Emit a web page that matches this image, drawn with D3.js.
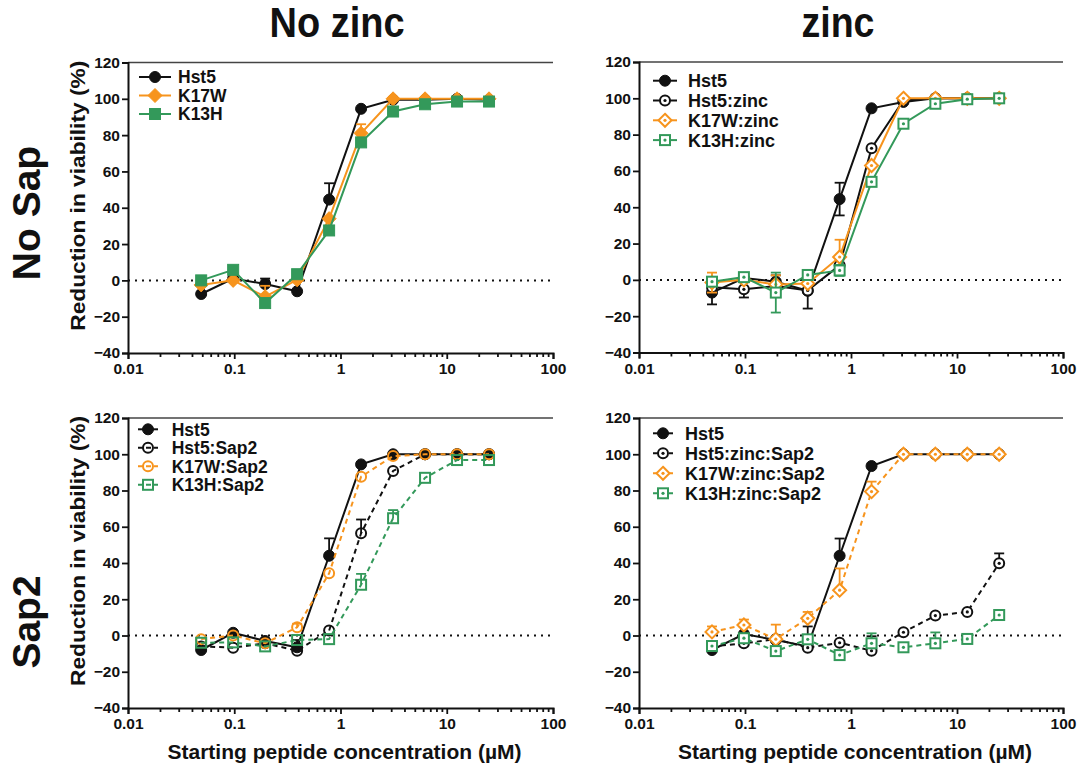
<!DOCTYPE html>
<html><head><meta charset="utf-8">
<script src="https://cdn.jsdelivr.net/npm/d3@7"></script>
<style>
body{margin:0;background:#fff;}
text{font-family:"Liberation Sans",Arial,sans-serif;font-weight:bold;fill:#111;}
</style>
</head><body><svg id="c" width="1079" height="767"></svg>
<script>
// ---------------- data ----------------
const concentrations = [0.048828125, 0.09765625, 0.1953125, 0.390625, 0.78125, 1.5625, 3.125, 6.25, 12.5, 25];
const xTickValues = [0.01, 0.1, 1, 10, 100];
const yTickValues = [-40, -20, 0, 20, 40, 60, 80, 100, 120];
const colTitles = ["No zinc", "zinc"];
const rowTitles = ["No Sap", "Sap2"];
const yTitle = "Reduction in viability (%)";
const xTitle = "Starting peptide concentration (µM)";

// Panel: No Sap / No zinc
const hst5_A      = [-7.5, 1, -2, -6, 44.5, 94.5, 99.5, 99.5, 100, 99.5];
const hst5_A_err  = [0, 0, 3, 0, 9, 0, 0, 0, 0, 0];
const k17w_A      = [-2.5, 0, -9, 0.3, 34, 81, 100, 100, 100, 100];
const k17w_A_err  = [0, 0, 6, 0, 0, 5, 0, 0, 0, 0];
const k13h_A      = [0, 5.8, -12.5, 3.4, 27.5, 76, 93, 97, 98.5, 98.5];
const k13h_A_err  = [0, 0, 0, 0, 0, 0, 0, 0, 0, 0];

// Panel: No Sap / zinc
const hst5_B        = [-7, 1, -1, -6, 44.5, 94.5, 98, 100, 100, 100];
const hst5_B_err    = [6.5, 0, 3.5, 0, 9, 0, 0, 0, 0, 0];
const hst5zn_B      = [-4, -5.2, -3.4, -5.8, 8, 72.5, 99, 100, 100, 100];
const hst5zn_B_err  = [0, 4.5, 0, 10, 0, 0, 0, 0, 0, 0];
const k17wzn_B      = [-1.5, 0, -2.5, -2, 12.6, 63, 100, 100, 100, 100];
const k17wzn_B_err  = [5.5, 0, 5, 0, 9.5, 0, 0, 0, 0, 0];
const k13hzn_B      = [-1, 1.5, -7, 2.7, 5.2, 54, 86, 97, 99.5, 100];
const k13hzn_B_err  = [0, 0, 11, 0, 3, 0, 0, 0, 0, 0];

// Panel: Sap2 / No zinc
const hst5_C        = [-8, 1.5, -3, -6.5, 44, 94.4, 100, 100, 100, 100];
const hst5_C_err    = [0, 0, 0, 4, 9.6, 0, 0, 0, 0, 0];
const hst5sap_C     = [-6, -6.7, -4.3, -8.4, 2.7, 56.4, 90.8, 100, 100, 100];
const hst5sap_C_err = [0, 0, 0, 0, 0, 7.6, 0, 0, 0, 0];
const k17wsap_C     = [-2, 0, -4.3, 4.5, 34.3, 87.6, 99, 100, 100, 100];
const k17wsap_C_err = [0, 0, 0, 2, 0, 0, 0, 0, 0, 0];
const k13hsap_C     = [-4, -3.8, -6, -2.5, -2, 28, 64.7, 87, 96.8, 96.8];
const k13hsap_C_err = [0, 0, 0, 0, 0, 6, 4.5, 0, 0, 0];

// Panel: Sap2 / zinc
const hst5_D          = [-8, 0.8, -2.5, -6, 44, 93.5, 100, 100, 100, 100];
const hst5_D_err      = [0, 0, 0, 11, 9.5, 0, 0, 0, 0, 0];
const hst5znsap_D     = [-6, -4.3, -2, -6.7, -4, -8.4, 1.8, 11, 13, 39.8];
const hst5znsap_D_err = [0, 0, 0, 0, 0, 8, 0, 0, 0, 5.5];
const k17wznsap_D     = [2, 5.8, -2, 9.5, 25, 79.4, 100, 100, 100, 100];
const k17wznsap_D_err = [3, 3, 8, 3.5, 12, 5.5, 0, 0, 0, 0];
const k13hznsap_D     = [-5.8, -1.5, -8.6, -2.1, -10.8, -4.3, -6.5, -4.3, -1.9, 11.3];
const k13hznsap_D_err = [0, 0, 0, 0, 0, 5.5, 0, 6, 0, 0];

// ---------------- styles ----------------
const BLACK = "#111111", ORANGE = "#f7941d", GREEN = "#33995a";

const panels = [
  { x0: 128, x1: 553, yT: 62.5, yB: 353, errBoth: false,
    legend: { mx: 155, y0: 77, dy: 18.5, tx: 178, half: 16, fs: 17.5 },
    series: [
      { name: "Hst5", v: hst5_A, e: hst5_A_err, color: BLACK, shape: "circle", fill: "filled", dash: false },
      { name: "K17W", v: k17w_A, e: k17w_A_err, color: ORANGE, shape: "diamond", fill: "filled", dash: false },
      { name: "K13H", v: k13h_A, e: k13h_A_err, color: GREEN, shape: "square", fill: "filled", dash: false }
    ]},
  { x0: 639, x1: 1063, yT: 62, yB: 352.5, errBoth: true,
    legend: { mx: 665, y0: 80.7, dy: 19.8, tx: 688, half: 12, fs: 18 },
    series: [
      { name: "Hst5", v: hst5_B, e: hst5_B_err, color: BLACK, shape: "circle", fill: "filled", dash: false },
      { name: "Hst5:zinc", v: hst5zn_B, e: hst5zn_B_err, color: BLACK, shape: "circle", fill: "dot", dash: false },
      { name: "K17W:zinc", v: k17wzn_B, e: k17wzn_B_err, color: ORANGE, shape: "diamond", fill: "dot", dash: false },
      { name: "K13H:zinc", v: k13hzn_B, e: k13hzn_B_err, color: GREEN, shape: "square", fill: "dot", dash: false }
    ]},
  { x0: 128, x1: 553, yT: 418, yB: 708, errBoth: false,
    legend: { mx: 148, y0: 429.3, dy: 18.5, tx: 171.7, half: 10, fs: 17.5 },
    series: [
      { name: "Hst5", v: hst5_C, e: hst5_C_err, color: BLACK, shape: "circle", fill: "filled", dash: false },
      { name: "Hst5:Sap2", v: hst5sap_C, e: hst5sap_C_err, color: BLACK, shape: "circle", fill: "open", dash: true },
      { name: "K17W:Sap2", v: k17wsap_C, e: k17wsap_C_err, color: ORANGE, shape: "circle", fill: "open", dash: true },
      { name: "K13H:Sap2", v: k13hsap_C, e: k13hsap_C_err, color: GREEN, shape: "square", fill: "open", dash: true }
    ]},
  { x0: 639, x1: 1063, yT: 418, yB: 708, errBoth: false,
    legend: { mx: 663, y0: 433.3, dy: 20, tx: 685, half: 10, fs: 18 },
    series: [
      { name: "Hst5", v: hst5_D, e: hst5_D_err, color: BLACK, shape: "circle", fill: "filled", dash: false },
      { name: "Hst5:zinc:Sap2", v: hst5znsap_D, e: hst5znsap_D_err, color: BLACK, shape: "circle", fill: "dot", dash: true },
      { name: "K17W:zinc:Sap2", v: k17wznsap_D, e: k17wznsap_D_err, color: ORANGE, shape: "diamond", fill: "dot", dash: true },
      { name: "K13H:zinc:Sap2", v: k13hznsap_D, e: k13hznsap_D_err, color: GREEN, shape: "square", fill: "dot", dash: true }
    ]}
];

const svg = d3.select("#c");

function drawMarker(g, cx, cy, s) {
  const filled = s.fill === "filled";
  const fillCol = filled ? s.color : (s.fill === "dot" ? "#fff" : "none");
  let m;
  if (s.shape === "circle") {
    m = g.append("circle").attr("cx", cx).attr("cy", cy).attr("r", filled ? 5.5 : 5);
  } else if (s.shape === "square") {
    const h = filled ? 5.5 : 5;
    m = g.append("rect").attr("x", cx - h).attr("y", cy - h).attr("width", 2 * h).attr("height", 2 * h);
  } else {
    const h = filled ? 7 : 6.5;
    m = g.append("path").attr("d", `M${cx},${cy - h}L${cx + h},${cy}L${cx},${cy + h}L${cx - h},${cy}Z`);
  }
  m.attr("fill", fillCol).attr("stroke", s.color).attr("stroke-width", filled ? 1 : 2);
  if (s.fill === "dot") {
    g.append("circle").attr("cx", cx).attr("cy", cy).attr("r", 1.6).attr("fill", s.color);
  }
}

const minorTicks = [];
for (let d = 0.01; d < 100; d *= 10) for (let k = 2; k <= 9; k++) minorTicks.push(+(d * k).toPrecision(3));

panels.forEach((p, pi) => {
  const x = d3.scaleLog().domain([0.01, 100]).range([p.x0, p.x1]);
  const y = d3.scaleLinear().domain([-40, 120]).range([p.yB, p.yT]);
  const g = svg.append("g");

  // top frame line
  g.append("line").attr("x1", p.x0).attr("x2", p.x1).attr("y1", y(120)).attr("y2", y(120))
    .attr("stroke", "#444").attr("stroke-width", 1.5);

  // zero reference
  g.append("line").attr("x1", p.x0).attr("x2", p.x1).attr("y1", y(0)).attr("y2", y(0))
    .attr("stroke", BLACK).attr("stroke-width", 2).attr("stroke-dasharray", "2,5");

  // axes
  const ay = g.append("g").attr("transform", `translate(${p.x0},0)`)
    .call(d3.axisLeft(y).tickValues(yTickValues).tickSize(6).tickPadding(2).tickFormat(d3.format("d")));
  const ax = g.append("g").attr("transform", `translate(0,${p.yB})`)
    .call(d3.axisBottom(x).tickValues(xTickValues).tickSize(6).tickPadding(4).tickFormat(d => String(d)));
  const axm = g.append("g").attr("transform", `translate(0,${p.yB})`)
    .call(d3.axisBottom(x).tickValues(minorTicks).tickSize(4).tickFormat(""));
  axm.select(".domain").remove();
  [ay, ax, axm].forEach(a => {
    a.selectAll(".domain").attr("stroke", BLACK).attr("stroke-width", 2);
    a.selectAll(".tick line").attr("stroke", BLACK).attr("stroke-width", 1.8);
    a.selectAll(".tick text").style("font-size", "15.5px").style("font-family", '"Liberation Sans",Arial,sans-serif')
      .style("font-weight", "bold").attr("fill", BLACK);
  });

  // series
  const line = d3.line().x((d, i) => x(concentrations[i])).y(d => y(d));
  p.series.forEach(s => {
    const sg = g.append("g");
    sg.append("path").attr("d", line(s.v)).attr("fill", "none").attr("stroke", s.color)
      .attr("stroke-width", 2).attr("stroke-dasharray", s.dash ? "5,4" : null);
    s.v.forEach((v, i) => {
      const e = s.e[i];
      if (!e) return;
      const cx = x(concentrations[i]);
      const top = y(v + e), bot = p.errBoth ? y(v - e) : y(v);
      sg.append("line").attr("x1", cx).attr("x2", cx).attr("y1", top).attr("y2", bot)
        .attr("stroke", s.color).attr("stroke-width", 1.8);
      sg.append("line").attr("x1", cx - 5).attr("x2", cx + 5).attr("y1", top).attr("y2", top)
        .attr("stroke", s.color).attr("stroke-width", 1.8);
      if (p.errBoth) sg.append("line").attr("x1", cx - 5).attr("x2", cx + 5).attr("y1", bot).attr("y2", bot)
        .attr("stroke", s.color).attr("stroke-width", 1.8);
    });
    s.v.forEach((v, i) => drawMarker(sg, x(concentrations[i]), y(v), s));
  });

  // legend
  const L = p.legend;
  p.series.forEach((s, i) => {
    const ly = L.y0 + i * L.dy;
    const lg = g.append("g");
    lg.append("line").attr("x1", L.mx - L.half).attr("x2", L.mx + L.half).attr("y1", ly).attr("y2", ly)
      .attr("stroke", s.color).attr("stroke-width", 2).attr("stroke-dasharray", s.dash ? "5,3" : null);
    drawMarker(lg, L.mx, ly, s);
    lg.append("text").attr("x", L.tx).attr("y", ly).attr("dy", "0.36em").style("font-size", L.fs + "px").text(s.name);
  });

  // axis titles
  if (pi % 2 === 0) {
    const cy = (p.yT + p.yB) / 2 - 12;
    g.append("text").attr("transform", `translate(78,${cy}) rotate(-90)`).attr("text-anchor", "middle")
      .attr("dy", "0.36em").style("font-size", "20px").attr("textLength", 270).attr("lengthAdjust", "spacingAndGlyphs")
      .text(yTitle);
  }
  if (pi >= 2) {
    g.append("text").attr("x", (p.x0 + p.x1) / 2 + 4).attr("y", 759).attr("text-anchor", "middle")
      .style("font-size", "21px").attr("textLength", 354).attr("lengthAdjust", "spacingAndGlyphs").text(xTitle);
  }
});

// column titles
[[colTitles[0], 337, 135], [colTitles[1], 838, 73]].forEach(([t, cx, w]) => {
  svg.append("text").attr("x", cx).attr("y", 37).attr("text-anchor", "middle").style("font-size", "42px")
    .attr("textLength", w).attr("lengthAdjust", "spacingAndGlyphs").text(t);
});
// row titles
[[rowTitles[0], 213], [rowTitles[1], 622]].forEach(([t, cy]) => {
  svg.append("text").attr("transform", `translate(26,${cy}) rotate(-90)`).attr("text-anchor", "middle")
    .attr("dy", "0.36em").style("font-size", "39px").text(t);
});
</script>
</body></html>
